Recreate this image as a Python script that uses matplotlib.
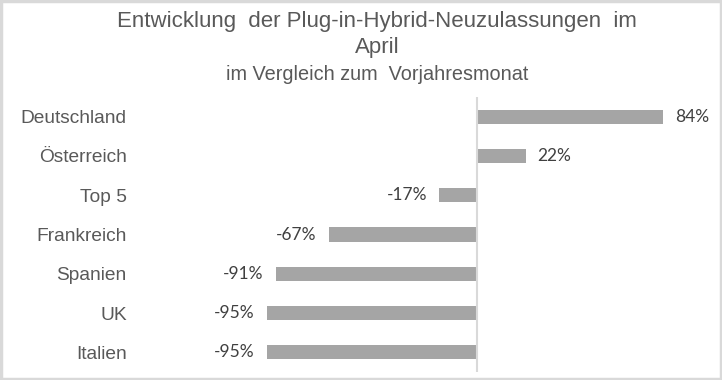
import matplotlib
matplotlib.use("Agg")
import matplotlib.pyplot as plt
from matplotlib.patches import Rectangle

# data
categories = ["Deutschland", "Österreich", "Top 5", "Frankreich", "Spanien", "UK", "Italien"]
changes = [84, 22, -17, -67, -91, -95, -95]
value_labels = ["84%", "22%", "-17%", "-67%", "-91%", "-95%", "-95%"]

BAR_COLOR = "#a5a5a5"
LABEL_COLOR = "#595959"
VALUE_COLOR = "#404040"
LINE_COLOR = "#d9d9d9"
ARIAL = ["Liberation Sans", "DejaVu Sans"]
VALUE_FONT = ["Lato", "DejaVu Sans"]

W, H = 722, 380
fig = plt.figure(figsize=(W / 100, H / 100), dpi=100)

# axes placed in pixels: zero line at x=477, 2.214 px per percent point
ax_left, ax_right, ax_top, ax_bottom = 140, 700, 97, 372
ax = fig.add_axes([ax_left / W, 1 - ax_bottom / H, (ax_right - ax_left) / W, (ax_bottom - ax_top) / H])
px_per_unit = 2.214
zero_px = 477
ax.set_xlim((ax_left - zero_px) / px_per_unit, (ax_right - zero_px) / px_per_unit)

y = list(range(len(categories)))
ax.barh(y, changes, height=0.36, color=BAR_COLOR, zorder=2)
ax.set_ylim(len(categories) - 0.5, -0.5)

for i, (v, lab) in enumerate(zip(changes, value_labels)):
    off = 8.6 if v >= 0 else -8.6
    ax.annotate(lab, xy=(v, i), xytext=(off, 0), textcoords="offset points",
                ha="left" if v >= 0 else "right", va="center",
                fontsize=12.5, color=VALUE_COLOR, family=VALUE_FONT)

ax.axvline(0, color=LINE_COLOR, lw=1.5, zorder=3)

ax.set_yticks(y)
ax.set_yticklabels(categories, fontsize=13.8, color=LABEL_COLOR, family=ARIAL)
ax.tick_params(axis="y", length=0, pad=9.5)
ax.set_xticks([])
for s in ax.spines.values():
    s.set_visible(False)

# title
fig.text(377 / W, 1 - 22 / H, "Entwicklung  der Plug-in-Hybrid-Neuzulassungen  im",
         ha="center", va="center", fontsize=16, color=LABEL_COLOR, family=ARIAL)
fig.text(377 / W, 1 - 47 / H, "April", ha="center", va="center",
         fontsize=16, color=LABEL_COLOR, family=ARIAL)
fig.text(377 / W, 1 - 75 / H, "im Vergleich zum  Vorjahresmonat", ha="center", va="center",
         fontsize=14.3, color=LABEL_COLOR, family=ARIAL)

# light grey frame around the whole chart
fig.patches.append(Rectangle((0.002, 0.003), 0.996, 0.994, transform=fig.transFigure,
                             fill=False, edgecolor=LINE_COLOR, lw=2.5))

fig.savefig("out.png", dpi=100, facecolor="white")
